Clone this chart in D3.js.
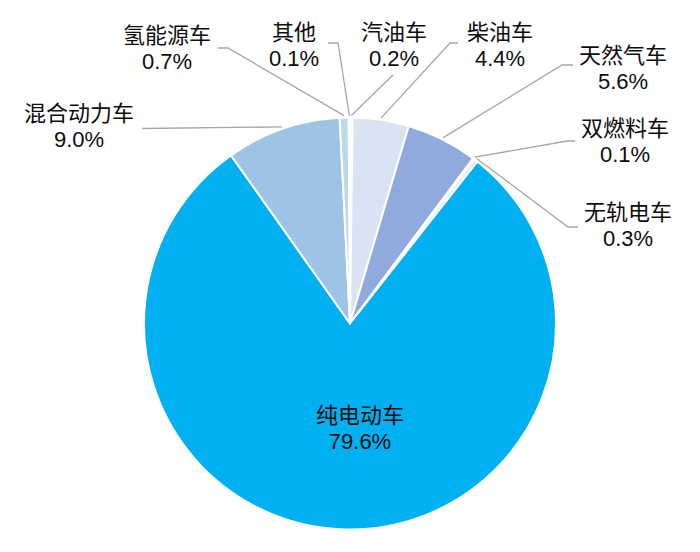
<!DOCTYPE html>
<html lang="zh">
<head>
  <meta charset="UTF-8">
  <title>车辆类型占比</title>
  <script src="https://cdn.jsdelivr.net/npm/d3@7/dist/d3.min.js"></script>
  <style>
    body { margin: 0; background: #fff; }
    text { font-family: "Liberation Sans", Arial, "Noto Sans CJK SC", sans-serif; font-size: 22px; fill: #0d0d0d; }
  </style>
</head>
<body>
  <div id="wrapper"></div>
  <script>
    // data, clockwise from 12 o'clock
    const categories = ["汽油车", "柴油车", "天然气车", "双燃料车", "无轨电车", "纯电动车", "混合动力车", "氢能源车", "其他"]
    const shares = [0.2, 4.4, 5.6, 0.1, 0.3, 79.6, 9.0, 0.7, 0.1]
    const colors = ["#dae3f3", "#dae3f3", "#8faadc", "#c9d7ee", "#deebf7", "#00b0f0", "#9dc3e6", "#bdd7ee", "#dae3f3"]

    const width = 700, height = 552
    const cx = 350, cy = 323.5, r = 206

    // label layout: text centre and leader elbow/end points
    const labelLayout = {
      "汽油车":   { x: 394, y: 32, line: [[393, 75]] },
      "柴油车":   { x: 500, y: 32, line: [[450, 43], [458, 43]] },
      "天然气车": { x: 623, y: 55, line: [[562, 65], [573, 65]] },
      "双燃料车": { x: 625, y: 128, line: [[567, 141], [575, 141]] },
      "无轨电车": { x: 628, y: 212, line: [[568, 227], [578, 227]] },
      "纯电动车": { x: 360, y: 415, line: null },
      "混合动力车": { x: 79, y: 113, line: [[142, 128.5]] },
      "氢能源车": { x: 167, y: 35, line: [[228, 48], [218, 48]] },
      "其他":     { x: 294, y: 32, line: [[338, 43], [328, 43]] }
    }

    const svg = d3.select("#wrapper").append("svg")
      .attr("width", width)
      .attr("height", height)

    const pie = d3.pie().sort(null).value(d => d.v)
    const arcs = pie(categories.map((c, i) => ({ c, v: shares[i], color: colors[i] })))

    const arc = d3.arc().innerRadius(0).outerRadius(r)

    const g = svg.append("g").attr("transform", `translate(${cx},${cy})`)

    g.selectAll("path.slice").data(arcs).join("path")
      .attr("class", "slice")
      .attr("d", arc)
      .attr("fill", d => d.data.color)
      .attr("stroke", "#fff")
      .attr("stroke-width", 2)
      .attr("stroke-linejoin", "round")

    // leader lines
    const line = d3.line()
    arcs.forEach(d => {
      const lay = labelLayout[d.data.c]
      if (!lay.line) return
      const a = (d.startAngle + d.endAngle) / 2
      const start = [cx + (r + 2) * Math.sin(a), cy - (r + 2) * Math.cos(a)]
      svg.append("path")
        .attr("d", line([start, ...lay.line]))
        .attr("fill", "none")
        .attr("stroke", "#a6a6a6")
        .attr("stroke-width", 1.3)
    })

    // labels
    arcs.forEach(d => {
      const lay = labelLayout[d.data.c]
      const t = svg.append("text")
        .attr("text-anchor", "middle")
      t.append("tspan")
        .attr("x", lay.x).attr("y", lay.y).attr("dy", "0.36em")
        .text(d.data.c)
      t.append("tspan")
        .attr("x", lay.x).attr("y", lay.y + 26).attr("dy", "0.36em")
        .text(d3.format(".1f")(d.data.v) + "%")
    })
  </script>
</body>
</html>
